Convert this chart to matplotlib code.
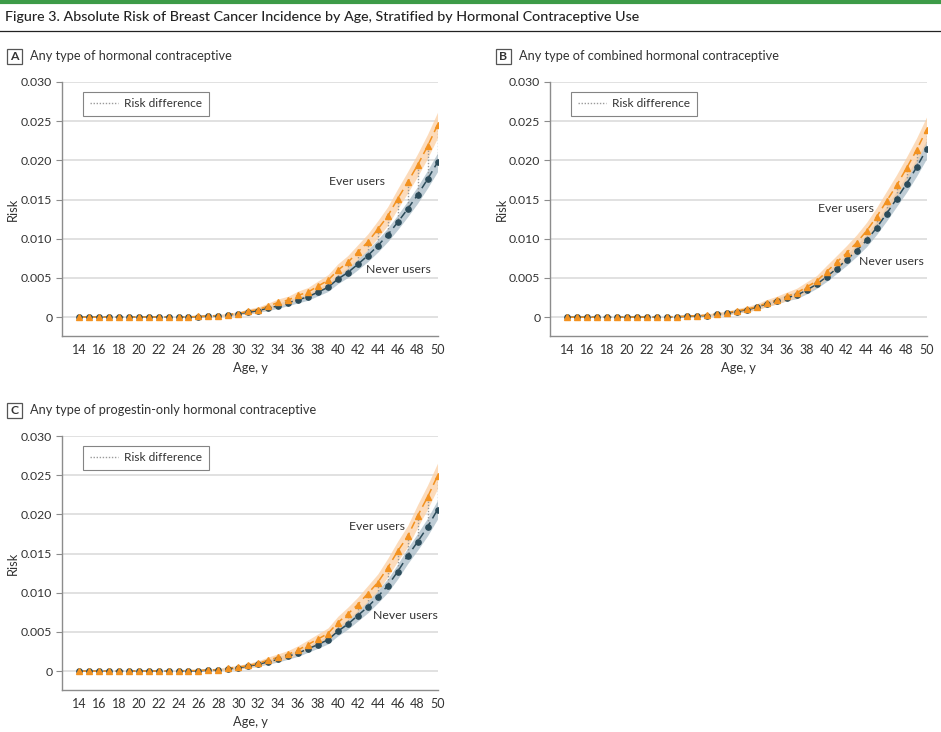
import matplotlib
matplotlib.use("Agg")
import matplotlib.pyplot as plt
from matplotlib.lines import Line2D
from matplotlib.patches import Rectangle
import numpy as np

plt.rcParams['font.family'] = ['Lato', 'DejaVu Sans']

ages = list(range(14, 51))
x_tick_labels = [str(a) for a in range(14, 51, 2)]
y_ticks = [0, 0.005, 0.010, 0.015, 0.020, 0.025, 0.030]
y_tick_labels = ["0", "0.005", "0.010", "0.015", "0.020", "0.025", "0.030"]

# values in units of 1e-3
young_ever = [0.0, 0.0, 0.0, 0.0, 0.0, 0.01, 0.01, 0.01, 0.02, 0.02]
young_never = [0.0, 0.0, 0.0, 0.0, 0.0, 0.0, 0.01, 0.01, 0.01, 0.01]

a_ever = young_ever + [0.03, 0.05, 0.09, 0.17, 0.21, 0.34, 0.47, 0.77, 0.98, 1.41, 1.88, 2.18, 2.78,
                       3.2, 3.96, 4.7, 6.0, 7.0, 8.3, 9.6, 11.2, 12.9, 15.1, 17.2, 19.4, 21.8, 24.5]
a_never = young_never + [0.02, 0.04, 0.07, 0.13, 0.17, 0.26, 0.47, 0.6, 0.85, 1.15, 1.45, 1.84, 2.22,
                         2.6, 3.2, 3.8, 4.87, 5.7, 6.75, 7.85, 9.1, 10.5, 12.1, 13.8, 15.6, 17.6, 19.75]

b_ever = young_ever + [0.04, 0.08, 0.13, 0.2, 0.26, 0.43, 0.55, 0.8, 1.03, 1.32, 1.8, 2.18, 2.65,
                       3.1, 3.85, 4.6, 5.8, 7.0, 8.2, 9.5, 11.0, 12.8, 14.8, 16.8, 19.0, 21.3, 23.9]
b_never = young_never + [0.02, 0.05, 0.1, 0.17, 0.2, 0.38, 0.5, 0.72, 0.94, 1.25, 1.7, 2.05, 2.5,
                         2.8, 3.45, 4.2, 5.15, 6.2, 7.3, 8.5, 9.8, 11.4, 13.2, 15.1, 17.0, 19.1, 21.4]

c_ever = young_ever + [0.04, 0.08, 0.08, 0.17, 0.2, 0.39, 0.52, 0.73, 1.0, 1.42, 1.77, 2.15, 2.7,
                       3.4, 4.1, 4.8, 6.2, 7.3, 8.5, 9.9, 11.3, 13.2, 15.3, 17.2, 19.8, 22.2, 24.9]
c_never = young_never + [0.02, 0.04, 0.04, 0.13, 0.17, 0.3, 0.43, 0.65, 0.86, 1.2, 1.5, 1.9, 2.3,
                         2.85, 3.4, 4.0, 5.1, 6.0, 7.1, 8.2, 9.5, 10.9, 12.7, 14.7, 16.5, 18.4, 20.6]

# 95% CI half-widths (units 1e-3)
ever_hw = [0.02] * 10 + [0.06, 0.07, 0.1, 0.14, 0.15, 0.19, 0.23, 0.29, 0.33, 0.39, 0.45, 0.49, 0.55,
                         0.59, 0.66, 0.72, 0.81, 0.87, 0.95, 1.02, 1.1, 1.19, 1.28, 1.37, 1.45, 1.54, 1.63]
never_hw = [0.02] * 10 + [0.04, 0.05, 0.07, 0.1, 0.11, 0.14, 0.19, 0.21, 0.25, 0.29, 0.33, 0.37, 0.4,
                          0.44, 0.48, 0.53, 0.6, 0.64, 0.7, 0.76, 0.81, 0.87, 0.94, 1.0, 1.07, 1.13, 1.2]

panels = [
    ("A", "Any type of hormonal contraceptive", a_ever, a_never,
     (41.9, 0.01736), (46.1, 0.00613)),
    ("B", "Any type of combined hormonal contraceptive", b_ever, b_never,
     (41.9, 0.0139), (46.5, 0.00715)),
    ("C", "Any type of progestin-only hormonal contraceptive", c_ever, c_never,
     (43.9, 0.0185), (46.8, 0.00715)),
]

ORANGE = "#f39220"
ORANGE_BAND = "#fcd0a4"
NAVY = "#2b4b5a"
NAVY_BAND = "#a9bcc7"
TEXT = "#333333"
SPINE = "#8c8c8c"
GRID = "#dcdcdc"

W, H = 941, 732
fig = plt.figure(figsize=(W / 100, H / 100), dpi=100)

# top green rule and title
fig.add_artist(Line2D([0, 1], [1 - 1.5 / H, 1 - 1.5 / H], color="#3d9b48", lw=3, transform=fig.transFigure))
fig.text(5 / W, 1 - 17 / H, "Figure 3. Absolute Risk of Breast Cancer Incidence by Age, Stratified by Hormonal Contraceptive Use",
         fontsize=10.3, color="#222222", va="center", ha="left", fontweight="medium")
fig.add_artist(Line2D([0, 1], [1 - 31 / H, 1 - 31 / H], color="#222222", lw=0.9, transform=fig.transFigure))

axes_px = {
    "A": (62, 82, 438, 336),
    "B": (550, 82, 927, 336),
    "C": (62, 436, 438, 690),
}
label_px = {"A": (7, 49), "B": (496, 49), "C": (7, 403)}
ylabel_x = {"A": 19, "B": 508, "C": 19}

for letter, title, ever, never, ever_lbl, never_lbl in panels:
    l, t, r, b = axes_px[letter]
    ax = fig.add_axes([l / W, 1 - b / H, (r - l) / W, (b - t) / H])
    ev = np.array(ever) * 1e-3
    nv = np.array(never) * 1e-3
    ehw = np.array(ever_hw) * 1e-3
    nhw = np.array(never_hw) * 1e-3
    ag = np.array(ages)

    ax.fill_between(ag, nv - nhw, nv + nhw, color=NAVY_BAND, alpha=0.75, lw=0, zorder=2)
    ax.fill_between(ag, ev - ehw, ev + ehw, color=ORANGE_BAND, alpha=0.75, lw=0, zorder=2)
    ax.vlines(ag, nv, ev, colors="#9a9a9a", linestyles=(0, (1, 1.2)), lw=1.0, zorder=3)
    ax.plot(ag, nv, color=NAVY, lw=1.1, ls=(0, (5, 3)), zorder=4)
    ax.plot(ag, ev, color=ORANGE, lw=1.1, ls=(0, (5, 3)), zorder=4)
    ax.plot(ag, nv, ls="none", marker="o", ms=3.8, color=NAVY, mec=NAVY, zorder=5)
    ax.plot(ag, ev, ls="none", marker="^", ms=4.2, color=ORANGE, mec=ORANGE, zorder=6)

    ax.set_xlim(12.3, 50.05)
    ax.set_ylim(-0.0024, 0.030)
    ax.set_xticks(range(14, 51, 2))
    ax.set_xticklabels(x_tick_labels)
    ax.set_yticks(y_ticks)
    ax.set_yticklabels(y_tick_labels)
    ax.tick_params(axis="x", length=0, pad=6, labelsize=9, labelcolor=TEXT)
    ax.tick_params(axis="y", length=4, width=0.8, color=SPINE, pad=3, labelsize=8.8, labelcolor=TEXT)
    ax.grid(axis="y", color=GRID, lw=1.2, zorder=0)
    ax.set_axisbelow(True)
    for s in ["top", "right"]:
        ax.spines[s].set_visible(False)
    for s in ["left", "bottom"]:
        ax.spines[s].set_color(SPINE)
        ax.spines[s].set_linewidth(1.0)
    ax.set_xlabel("Age, y", fontsize=9.3, color=TEXT)
    ax.xaxis.set_label_coords(0.5, -(362 - 336) / (b - t))
    ax.set_ylabel("Risk", fontsize=9.3, color=TEXT)
    ax.yaxis.set_label_coords((ylabel_x[letter] - l) / (r - l), 0.5)

    ax.text(ever_lbl[0], ever_lbl[1], "Ever users", fontsize=8.8, color=TEXT, ha="center", va="center", zorder=7)
    ax.text(never_lbl[0], never_lbl[1], "Never users", fontsize=8.8, color=TEXT, ha="center", va="center", zorder=7)

    handle = Line2D([], [], color="#9a9a9a", ls=(0, (1, 1.2)), lw=1.0)
    leg = ax.legend([handle], ["Risk difference"], loc="upper left", bbox_to_anchor=(0.04, 0.985),
                    frameon=True, fancybox=False, fontsize=8.6, handlelength=2.4, handletextpad=0.5,
                    borderpad=0.55, labelcolor=TEXT)
    leg.get_frame().set_edgecolor("#666666")
    leg.get_frame().set_linewidth(0.8)

    # panel letter box and title
    lx, ly = label_px[letter]
    fig.add_artist(Rectangle((lx / W, 1 - (ly + 15) / H), 15 / W, 15 / H, fill=False, ec="#555555", lw=0.9,
                             transform=fig.transFigure))
    fig.text((lx + 7.5) / W, 1 - (ly + 7.5) / H, letter, fontsize=8.8, fontweight="bold", color=TEXT,
             ha="center", va="center")
    fig.text((lx + 23) / W, 1 - (ly + 7.5) / H, title, fontsize=9.2, color=TEXT, ha="left", va="center")

fig.savefig("out.png", dpi=100)
